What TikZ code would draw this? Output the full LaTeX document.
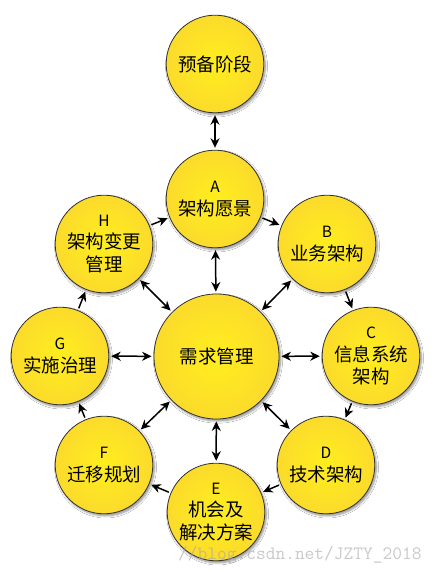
\documentclass[tikz,border=0pt]{standalone}
\usepackage{fontspec}
\setmainfont{Noto Sans CJK SC}
\usetikzlibrary{arrows.meta,shadows.blur}
\definecolor{yc}{HTML}{FFEE1E}
\definecolor{ym}{HTML}{FCDD2A}
\definecolor{ye}{HTML}{F5C637}
\pgfdeclareradialshading{ballgrad}{\pgfpoint{0bp}{0bp}}{color(0bp)=(yc); color(22bp)=(ym); color(50bp)=(ye)}
\newcommand\lettr[1]{{\fontsize{15.5}{22.5}\selectfont #1}}
\begin{document}
\begin{tikzpicture}[x=1pt,y=-1pt,
  ball/.style={circle, draw=black!80, line width=0.8pt, shading=ballgrad,
    minimum size=97.6pt, inner sep=0pt, align=center,
    font=\fontsize{18.5}{22.5}\selectfont,
    blur shadow={shadow xshift=1.5pt, shadow yshift=-2pt, shadow blur steps=6, shadow opacity=45}},
  bigball/.style={ball, minimum size=125pt},
  conn/.style={line width=1.5pt, black, shorten <=2pt, shorten >=2pt},
  >={Stealth[length=9.5pt,width=9pt,inset=3pt]}]
\useasboundingbox (0,0) rectangle (440,572);
\fill[white] (0,0) rectangle (440,572);

\node[ball] (P) at (215,64) {预备阶段};
\node[ball] (A) at (215,199) {\lettr{A}\\架构愿景};
\node[ball] (B) at (327,244) {\lettr{B}\\业务架构};
\node[ball] (C) at (371,356) {\lettr{C}\\信息系统\\架构};
\node[ball] (D) at (326,465) {\lettr{D}\\技术架构};
\node[ball] (E) at (216,512) {\lettr{E}\\机会及\\解决方案};
\node[ball] (F) at (104,465) {\lettr{F}\\迁移规划};
\node[ball] (G) at (60,356) {\lettr{G}\\实施治理};
\node[ball] (H) at (104,244) {\lettr{H}\\架构变更\\管理};
\node[bigball] (R) at (216.5,356.5) {需求管理};

\draw[conn,<->] (P) -- (A);
\foreach \n in {A,B,C,D,E,F,G,H} {\draw[conn,<->] (R) -- (\n);}
\draw[conn,->] (A) -- (B);
\draw[conn,->] (B) -- (C);
\draw[conn,->] (C) -- (D);
\draw[conn,->] (D) -- (E);
\draw[conn,->] (E) -- (F);
\draw[conn,->] (F) -- (G);
\draw[conn,->] (G) -- (H);
\draw[conn,->] (H) -- (A);

\node[anchor=base west, font=\ttfamily\fontsize{18.9}{20}\selectfont, text=black!35, opacity=0.6, inner sep=0pt] (wm) at (178,559) {//blog.csdn.net/JZTY\_2018};
\end{tikzpicture}
\end{document}
